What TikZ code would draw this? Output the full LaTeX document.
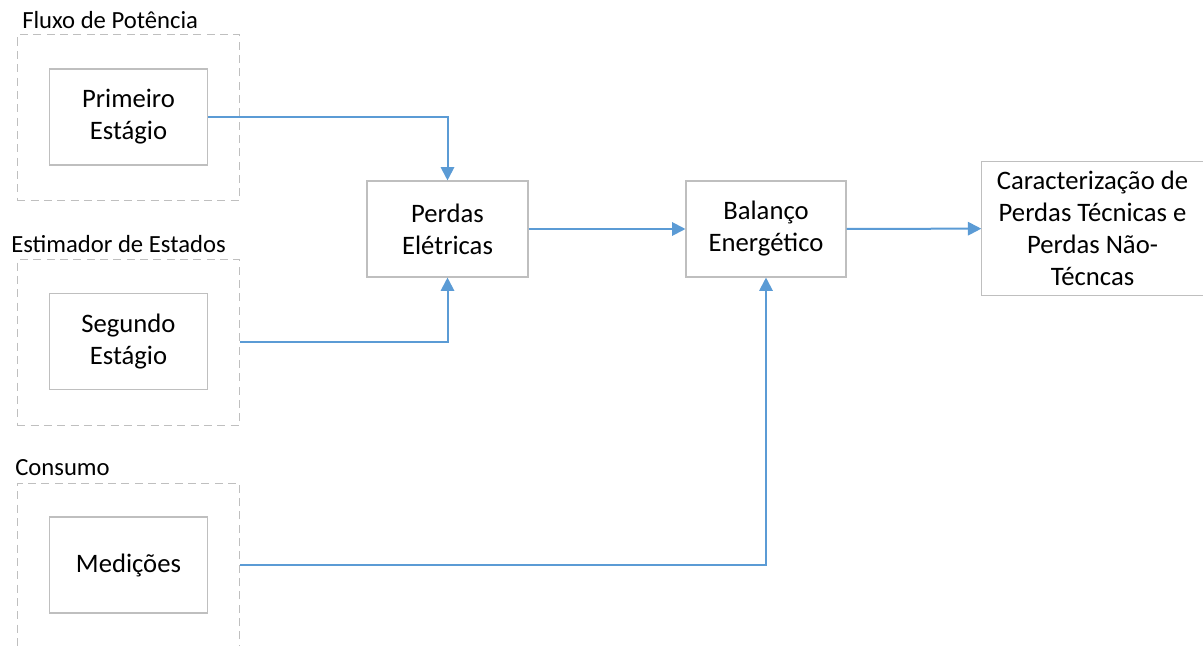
\documentclass[tikz,border=0pt]{standalone}
\usepackage{fontspec}
\setmainfont{Carlito}
\usetikzlibrary{arrows.meta}
\definecolor{boxgray}{HTML}{BFBFBF}
\definecolor{flowblue}{HTML}{5B9BD5}
\tikzset{
  blk/.style={draw=boxgray, fill=white, line width=0.8pt, minimum width=119pt, minimum height=72pt,
    inner sep=0pt, align=center, font=\fontsize{20}{24}\selectfont},
  grp/.style={draw=boxgray, line width=0.8pt, dash pattern=on 6pt off 4pt, minimum width=167pt,
    minimum height=124pt, inner sep=0pt},
  grplabel/.style={anchor=base west, inner sep=0pt, font=\fontsize{18.5}{22}\selectfont},
  flow/.style={draw=flowblue, line width=1.5pt, -{Triangle[length=10pt,width=10pt]}},
}
\begin{document}
\begin{tikzpicture}[x=0.75pt, y=-0.75pt]
  \useasboundingbox (0,0) rectangle (1203,646);

  %% grupos
  \node[grp] (fluxo) at (128.5,117.5) {};
  \node[grp] (estim) at (128.5,342.5) {};
  \node[grp, minimum height=130pt] (cons) at (128.5,570) {};
  \node[grplabel] (lfluxo) at (22,28) {Fluxo de Potência};
  \node[grplabel] (lestim) at (11,252) {Estimador de Estados};
  \node[grplabel] (lcons) at (15,475) {Consumo};

  %% blocos
  \node[blk] (prim) at (128.5,117) {Primeiro\\Estágio};
  \node[blk] (seg) at (128.5,341.5) {Segundo\\Estágio};
  \node[blk] (med) at (128.5,565) {Medições};
  \node[blk, minimum width=120.75pt] (perdas) at (447.5,229) {Perdas\\Elétricas};
  \node[blk, minimum width=120pt] (bal) at (766,229) {Balanço\\Energético};
  \node[blk, minimum width=166pt, minimum height=100pt] (carac) at (1092.5,228.5)
    {Caracterização de\\Perdas Técnicas e\\Perdas Não-\\Técncas};

  %% fluxos
  \draw[flow] (prim.east) -| (perdas.north);
  \draw[flow] (seg.east -| estim.east) -| (perdas.south);
  \draw[flow] (perdas) -- (bal);
  \draw[flow] (med.east -| cons.east) -| (bal.south);
  \draw[flow] (bal) -- (carac);
\end{tikzpicture}
\end{document}
